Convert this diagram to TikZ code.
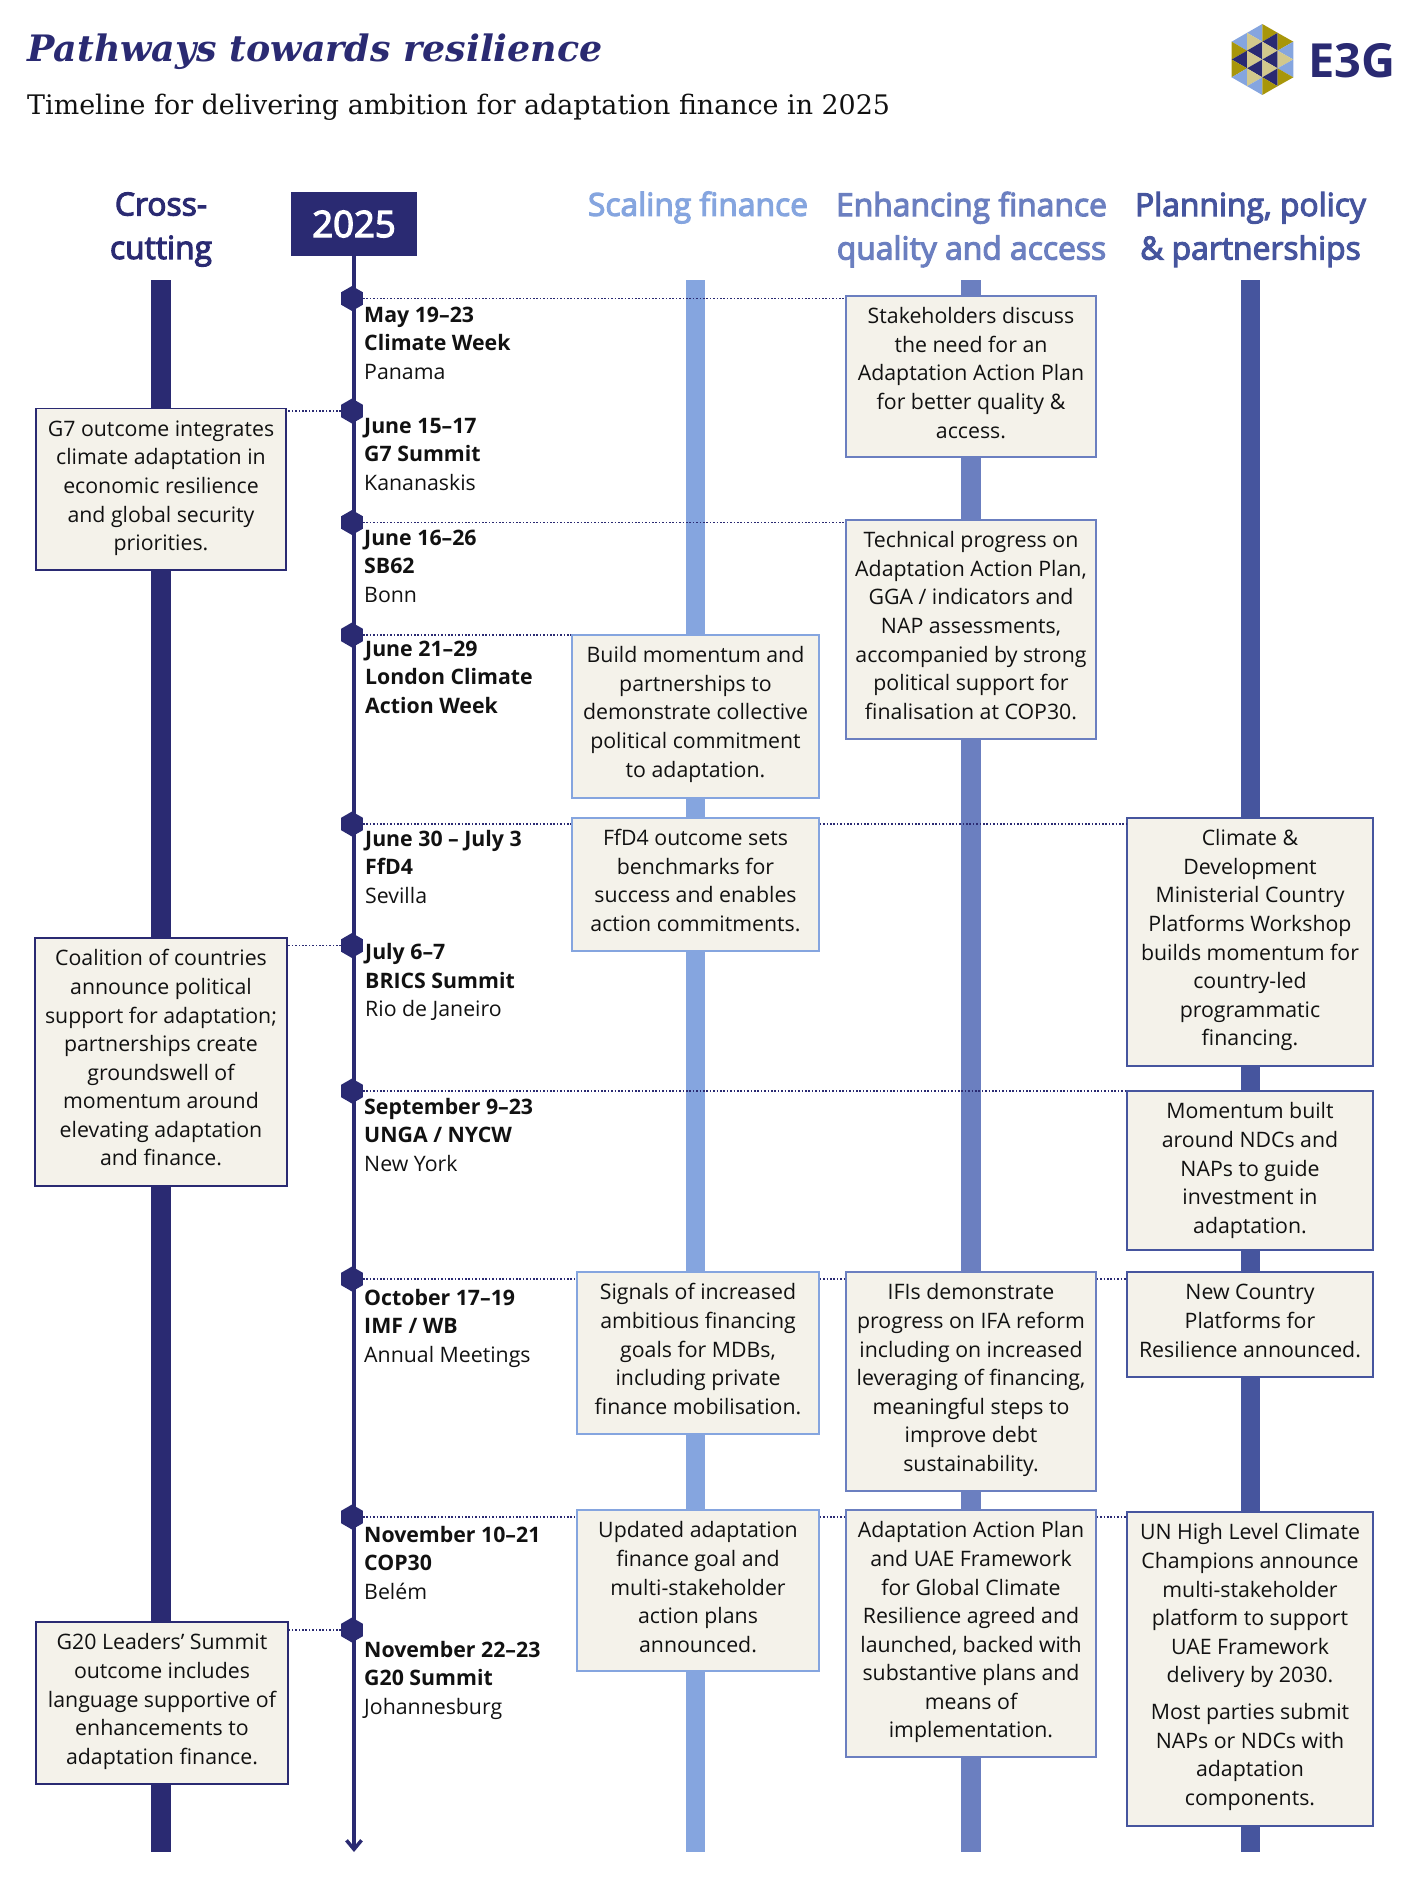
\documentclass[tikz,border=0pt]{standalone}
\usepackage{fontspec}
\setmainfont{Open Sans}
\newfontfamily\headserif{DejaVu Serif}
\newfontfamily\headsans[FakeBold=3.5]{Open Sans}
\usetikzlibrary{shapes.geometric,arrows.meta}
\definecolor{navy}{HTML}{2A2A72}
\definecolor{sky}{HTML}{85A5DF}
\definecolor{midblue}{HTML}{6B7FC0}
\definecolor{deepblue}{HTML}{46559E}
\definecolor{paper}{HTML}{F4F2EA}
\definecolor{gold}{HTML}{A8960A}
\definecolor{tan}{HTML}{D2C88C}
\definecolor{ink}{HTML}{111111}
\tikzset{
  x=1pt,y=-1pt,
  bodytext/.style={font=\fontsize{21.3}{28.55}\selectfont,text=ink},
  infobox/.style={fill=paper,line width=1.6pt,inner sep=0pt},
  infotext/.style={bodytext,inner sep=0pt,align=center,anchor=north},
  hexmark/.style={shape=regular polygon,regular polygon sides=6,shape border rotate=30,fill=navy,inner sep=0pt,minimum size=25pt},
  linkline/.style={draw=navy,line width=1.9pt,dash pattern=on 1.6pt off 1.8pt},
  eventlabel/.style={bodytext,anchor=north west,inner sep=0pt,align=left},
  colhead/.style={font=\fontsize{31.8}{43.5}\selectfont\headsans,align=center,inner sep=0pt},
  bar/.style={line width=19.5pt},
}
% \infobx{name}{left}{top}{right}{bottom}{colour}{text}
\newcommand{\infobx}[7]{%
  \node[infobox,draw=#6,minimum width={(#4-#2)*1pt},minimum height={(#5-#3)*1pt}] (#1) at ({(#2+#4)/2},{(#3+#5)/2}) {};
  \node[infotext,yshift=-8.5pt] (#1t) at (#1.north) {\strut#7};}
\newcommand{\tri}[7]{\fill[#1] (#2,#3) -- (#4,#5) -- (#6,#7) -- cycle;}
\begin{document}
\begin{tikzpicture}
\useasboundingbox (0,0) rectangle (1414,1888);
% headers
\node[anchor=base west,inner sep=0pt,text=navy,font=\fontsize{36.4}{40}\selectfont\headserif\bfseries\itshape] (title) at (27,61) {Pathways towards resilience};
\node[anchor=base west,inner sep=0pt,text=ink,font=\fontsize{26.9}{32}\selectfont\headserif] (subtitle) at (27,114) {Timeline for delivering ambition for adaptation finance in 2025};
% bars
\coordinate (ct) at (161,280); \coordinate (cb) at (161,1852);
\coordinate (st) at (695.5,280); \coordinate (sb) at (695.5,1852);
\coordinate (et) at (971,280); \coordinate (eb) at (971,1852);
\coordinate (pt) at (1250.5,280); \coordinate (pb) at (1250.5,1852);
\draw[bar,navy] (ct) -- (cb);
\draw[bar,sky] (st) -- (sb);
\draw[bar,midblue] (et) -- (eb);
\draw[bar,deepblue] (pt) -- (pb);
% column headers
\node[colhead,text=navy] (hc) at (161,229.5) {Cross-\\cutting};
\node[colhead,text=sky] (hs) at (698,207.5) {Scaling finance};
\node[colhead,text=midblue] (he) at (971.5,229.5) {Enhancing finance\\quality and access};
\node[colhead,text=deepblue] (hp) at (1250.5,229.5) {Planning, policy\\\& partnerships};
% year
\node[fill=navy,text=white,font=\fontsize{36.5}{40}\selectfont\headsans,minimum width=126pt,minimum height=64pt,inner sep=0pt] (year) at (354,224) {2025};
\coordinate (tend) at (354,1852);
\draw[navy,line width=4pt,-{Straight Barb[length=9pt,width=15pt,line width=3.5pt]}] (year.south) -- (tend);
% hexagons
\foreach \n/\y in {h1/298.5,h2/411,h3/522.5,h4/635,h5/824,h6/945.5,h7/1091,h8/1279,h9/1517,h10/1630}
  \node[hexmark] (\n) at (352,\y) {};
% boxes
\infobx{b1}{846}{296}{1096}{457}{midblue}{Stakeholders discuss\\the need for an\\Adaptation Action Plan\\for better quality \&\\access.}
\infobx{b2}{36}{408.5}{286}{570}{navy}{G7 outcome integrates\\climate adaptation in\\economic resilience\\and global security\\priorities.}
\infobx{b3}{846}{520}{1096}{739}{midblue}{Technical progress on\\Adaptation Action Plan,\\GGA / indicators and\\NAP assessments,\\accompanied by strong\\political support for\\finalisation at COP30.}
\infobx{b4}{572}{635}{819}{798}{sky}{Build momentum and\\partnerships to\\demonstrate collective\\political commitment\\to adaptation.}
\infobx{b5}{572}{818}{819}{951}{sky}{FfD4 outcome sets\\benchmarks for\\success and enables\\action commitments.}
\infobx{b6}{1127}{818}{1373}{1066}{deepblue}{Climate \&\\Development\\Ministerial Country\\Platforms Workshop\\builds momentum for\\country-led\\programmatic\\financing.}
\infobx{b7}{35}{938}{287}{1186}{navy}{Coalition of countries\\announce political\\support for adaptation;\\partnerships create\\groundswell of\\momentum around\\elevating adaptation\\and finance.}
\infobx{b8}{1127}{1091}{1373}{1250}{deepblue}{Momentum built\\around NDCs and\\NAPs to guide\\investment in\\adaptation.}
\infobx{b9}{577}{1272}{819}{1434}{sky}{Signals of increased\\ambitious financing\\goals for MDBs,\\including private\\finance mobilisation.}
\infobx{b10}{846}{1272}{1096}{1491}{midblue}{IFIs demonstrate\\progress on IFA reform\\including on increased\\leveraging of financing,\\meaningful steps to\\improve debt\\sustainability.}
\infobx{b11}{1127}{1272}{1373}{1377}{deepblue}{New Country\\Platforms for\\Resilience announced.}
\infobx{b12}{577}{1510}{819}{1671}{sky}{Updated adaptation\\finance goal and\\multi-stakeholder\\action plans\\announced.}
\infobx{b13}{846}{1510}{1096}{1757}{midblue}{Adaptation Action Plan\\and UAE Framework\\for Global Climate\\Resilience agreed and\\launched, backed with\\substantive plans and\\means of\\implementation.}
\infobx{b14}{1127}{1512}{1373}{1826}{deepblue}{UN High Level Climate\\Champions announce\\multi-stakeholder\\platform to support\\UAE Framework\\delivery by 2030.\\[8.5pt]Most parties submit\\NAPs or NDCs with\\adaptation\\components.}
\infobx{b15}{36}{1622}{288}{1784}{navy}{G20 Leaders’ Summit\\outcome includes\\language supportive of\\enhancements to\\adaptation finance.}
% connectors
\draw[linkline] (h1.east) -- (h1.east -| b1.west);
\draw[linkline] (h2.west) -- (h2.west -| b2.east);
\draw[linkline] (h3.east) -- (h3.east -| b3.west);
\draw[linkline] (h4.east) -- (h4.east -| b4.west);
\draw[linkline] (h5.east) -- (h5.east -| b5.west);
\draw[linkline] (h5.east -| b5.east) -- (h5.east -| b6.west);
\draw[linkline] (h6.west) -- (h6.west -| b7.east);
\draw[linkline] (h7.east) -- (h7.east -| b8.west);
\draw[linkline] (h8.east) -- (h8.east -| b9.west);
\draw[linkline] (h8.east -| b9.east) -- (h8.east -| b10.west);
\draw[linkline] (h8.east -| b10.east) -- (h8.east -| b11.west);
\draw[linkline] (h9.east) -- (h9.east -| b12.west);
\draw[linkline] (h9.east -| b12.east) -- (h9.east -| b13.west);
\draw[linkline] (h9.east -| b13.east) -- (h9.east -| b14.west);
\draw[linkline] (h10.west) -- (h10.west -| b15.east);
% event labels
\node[eventlabel] (e1) at (364,302) {\strut\textbf{May 19–23}\\\textbf{Climate Week}\\Panama};
\node[eventlabel] (e2) at (364,413) {\strut\textbf{June 15–17}\\\textbf{G7 Summit}\\Kananaskis};
\node[eventlabel] (e3) at (364,525) {\strut\textbf{June 16–26}\\\textbf{SB62}\\Bonn};
\node[eventlabel] (e4) at (365,636) {\strut\textbf{June 21–29}\\\textbf{London Climate}\\\textbf{Action Week}};
\node[eventlabel] (e5) at (365,826) {\strut\textbf{June 30 – July 3}\\\textbf{FfD4}\\Sevilla};
\node[eventlabel] (e6) at (365,939.5) {\strut\textbf{July 6–7}\\\textbf{BRICS Summit}\\Rio de Janeiro};
\node[eventlabel] (e7) at (364,1094) {\strut\textbf{September 9–23}\\\textbf{UNGA / NYCW}\\New York};
\node[eventlabel] (e8) at (364,1285) {\strut\textbf{October 17–19}\\\textbf{IMF / WB}\\Annual Meetings};
\node[eventlabel] (e9) at (364,1522) {\strut\textbf{November 10–21}\\\textbf{COP30}\\Belém};
\node[eventlabel] (e10) at (364,1637) {\strut\textbf{November 22–23}\\\textbf{G20 Summit}\\Johannesburg};
% logo
\begin{scope}[shift={(1200,0)},x=0.3333pt,y=-0.3333pt]
\tri{sky}{95}{125}{141}{98.5}{141}{152}
\tri{gold}{95}{125}{95}{178.5}{141}{152}
\tri{navy}{95}{178.5}{141}{152}{141}{205}
\tri{gold}{95}{178.5}{95}{232}{141}{205}
\tri{sky}{95}{232}{141}{205}{141}{258.5}
\tri{sky}{141}{98.5}{187}{72}{187}{125}
\tri{tan}{141}{98.5}{141}{152}{187}{125}
\tri{navy}{141}{152}{187}{125}{187}{178.5}
\tri{tan}{141}{152}{141}{205}{187}{178.5}
\tri{navy}{141}{205}{187}{178.5}{187}{232}
\tri{tan}{141}{205}{141}{258.5}{187}{232}
\tri{sky}{141}{258.5}{187}{232}{187}{285}
\tri{gold}{187}{72}{187}{125}{233}{98.5}
\tri{navy}{187}{125}{233}{98.5}{233}{152}
\tri{tan}{187}{125}{187}{178.5}{233}{152}
\tri{navy}{187}{178.5}{233}{152}{233}{205}
\tri{tan}{187}{178.5}{187}{232}{233}{205}
\tri{navy}{187}{232}{233}{205}{233}{258.5}
\tri{gold}{187}{232}{187}{285}{233}{258.5}
\tri{gold}{233}{98.5}{233}{152}{280}{125}
\tri{sky}{233}{152}{280}{125}{280}{178.5}
\tri{tan}{233}{152}{233}{205}{280}{178.5}
\tri{sky}{233}{205}{280}{178.5}{280}{232}
\tri{gold}{233}{205}{233}{258.5}{280}{232}
\end{scope}
\node[anchor=base west,inner sep=0pt,text=navy,font=\fontsize{47}{50}\selectfont\bfseries] (logo) at (1308,77) {E3G};
\end{tikzpicture}
\end{document}
